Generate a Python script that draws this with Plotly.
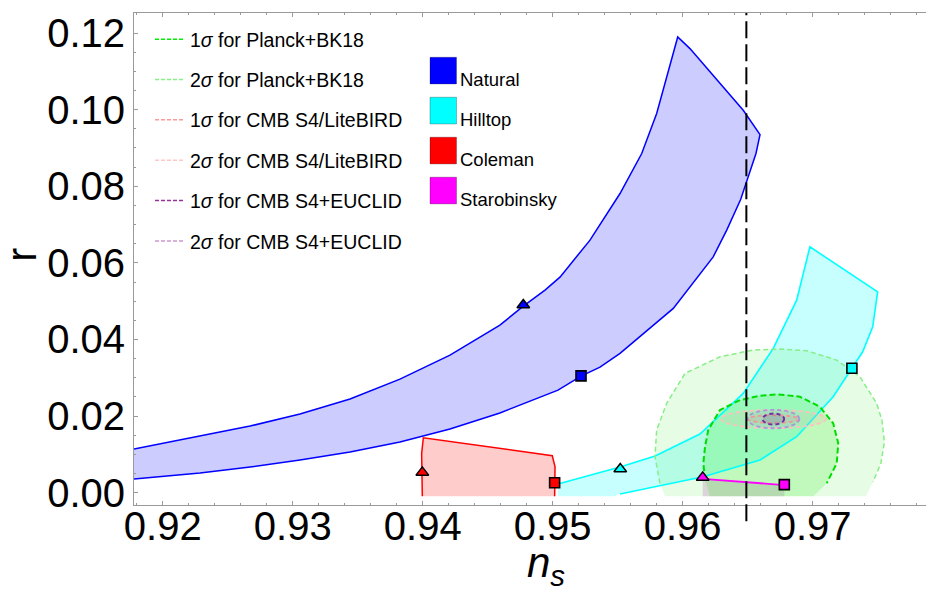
import plotly.graph_objects as go

# ---------------- data (ns, r) ----------------
natural_upper_ns = [0.91779, 0.92287, 0.92672, 0.93056, 0.93441, 0.93825, 0.94210, 0.94594, 0.94774,
                    0.94941, 0.95056, 0.95287, 0.95518, 0.95685, 0.95800, 0.95962]
natural_upper_r = [0.01140, 0.01479, 0.01740, 0.02053, 0.02445, 0.02966, 0.03593, 0.04375, 0.04871,
                   0.05288, 0.05628, 0.06593, 0.07811, 0.08855, 0.09898, 0.11897]
natural_top_ns = [0.96056, 0.96466, 0.96595]
natural_top_r = [0.11594, 0.09984, 0.09350]
natural_lower_ns = [0.96564, 0.96446, 0.96339, 0.96235, 0.95928, 0.95518, 0.95364, 0.95218, 0.95041,
                    0.94902, 0.94594, 0.94210, 0.93825, 0.93441, 0.93056, 0.92672, 0.92287, 0.91779]
natural_lower_r = [0.08855, 0.07655, 0.06854, 0.06157, 0.04811, 0.03637, 0.03279, 0.03045, 0.02679,
                   0.02497, 0.02081, 0.01661, 0.01323, 0.01062, 0.00853, 0.00670, 0.00514, 0.00357]

hilltop_upper_ns = [0.95041, 0.95287, 0.95518, 0.95788, 0.96133, 0.96466, 0.96697, 0.96877, 0.96979]
hilltop_upper_r = [0.00227, 0.00462, 0.00671, 0.00957, 0.01531, 0.02593, 0.03767, 0.05027, 0.06418]
hilltop_right_ns = [0.97500, 0.97462, 0.97385, 0.97302, 0.97256, 0.97158, 0.96877, 0.96595, 0.96158,
                    0.95774, 0.95518]
hilltop_right_r = [0.05244, 0.04331, 0.03679, 0.03246, 0.03026, 0.02505, 0.01461, 0.00853, 0.00417,
                   0.00157, -0.00034]

coleman_ns = [0.93997, 0.93992, 0.94005, 0.94997, 0.95018, 0.95015]
coleman_r = [-0.0009, 0.01028, 0.01435, 0.00965, 0.00678, -0.0009]

r_floor = -0.0009

starobinsky_ns = [0.96154, 0.96782]
starobinsky_r = [0.0036, 0.0020]

planck2_ns = [0.95864, 0.95825, 0.95787, 0.95800, 0.95877, 0.96018, 0.96287, 0.96541, 0.96748, 0.96954,
              0.97185, 0.97364, 0.97492, 0.97533, 0.97552, 0.97525, 0.97464, 0.97410]
planck2_r = [-0.0009, 0.00245, 0.00939, 0.01636, 0.02332, 0.03115, 0.03548, 0.03723, 0.03749, 0.03705,
             0.03462, 0.03026, 0.02332, 0.01897, 0.01323, 0.00767, 0.00279, -0.0009]
planck1_ns = [0.96210, 0.96172, 0.96159, 0.96172, 0.96197, 0.96287, 0.96441, 0.96595, 0.96735, 0.96902,
              0.97056, 0.97158, 0.97197, 0.97185, 0.97108, 0.97005]
planck1_r = [-0.0009, 0.00331, 0.00767, 0.01200, 0.01636, 0.02158, 0.02419, 0.02531, 0.02567, 0.02505,
             0.02244, 0.01811, 0.01289, 0.00767, 0.00245, -0.0009]

# future forecasts: centre and semi-axes (ns, r)
future_center = (0.96698, 0.01923)
future_a = [0.00404, 0.00196, 0.00200, 0.00083]   # 2σ LiteBIRD, 1σ LiteBIRD, 2σ EUCLID, 1σ EUCLID
future_b = [0.00240, 0.00100, 0.00240, 0.00143]

planck_ns = 0.9649

# benchmark points
tri_ns = [0.94774, 0.9552, 0.93997, 0.96154]
tri_r = [0.0490, 0.0062, 0.0053, 0.0040]
sq_ns = [0.95218, 0.97302, 0.95015, 0.96782]
sq_r = [0.0305, 0.0325, 0.0026, 0.0021]
model_names = ["Natural", "Hilltop", "Coleman", "Starobinsky"]
model_colors = ["#0000ff", "#00ffff", "#ff0000", "#ff00ff"]

legend_names = ["1<i>σ</i> for Planck+BK18", "2<i>σ</i> for Planck+BK18",
                "1<i>σ</i> for CMB S4/LiteBIRD", "2<i>σ</i> for CMB S4/LiteBIRD",
                "1<i>σ</i> for CMB S4+EUCLID", "2<i>σ</i> for CMB S4+EUCLID"]
legend_colors = ["#00ee00", "#88f088", "#ff9a9a", "#ffc8c8", "#993399", "#cc99cc"]

x_range = [0.91779, 0.97872]
y_range = [-0.00321, 0.12523]
x_ticks = [0.92, 0.93, 0.94, 0.95, 0.96, 0.97]
y_ticks = [0.00, 0.02, 0.04, 0.06, 0.08, 0.10, 0.12]

FONT = "Liberation Sans, Arial, Helvetica, sans-serif"

fig = go.Figure()

# ---------------- fills ----------------
nat_ns = natural_upper_ns + natural_top_ns + natural_lower_ns
nat_r = natural_upper_r + natural_top_r + natural_lower_r
fig.add_trace(go.Scatter(x=nat_ns, y=nat_r, fill="toself", fillcolor="rgba(0,0,255,0.2)",
                         mode="lines", line=dict(width=0), showlegend=False, hoverinfo="skip"))

hill_ns = hilltop_upper_ns + hilltop_right_ns
hill_r = hilltop_upper_r + hilltop_right_r
fig.add_trace(go.Scatter(x=hill_ns + [hilltop_right_ns[-1] - 0.00046, hilltop_upper_ns[0]],
                         y=hill_r + [r_floor, r_floor],
                         fill="toself", fillcolor="rgba(0,255,255,0.22)",
                         mode="lines", line=dict(width=0), showlegend=False, hoverinfo="skip"))

fig.add_trace(go.Scatter(x=coleman_ns, y=coleman_r, fill="toself", fillcolor="rgba(255,0,0,0.2)",
                         mode="lines", line=dict(width=0), showlegend=False, hoverinfo="skip"))

fig.add_trace(go.Scatter(x=starobinsky_ns + [starobinsky_ns[1], starobinsky_ns[0]],
                         y=starobinsky_r + [r_floor, r_floor],
                         fill="toself", fillcolor="rgba(200,80,200,0.25)",
                         mode="lines", line=dict(width=0), showlegend=False, hoverinfo="skip"))

fig.add_trace(go.Scatter(x=planck2_ns, y=planck2_r, fill="toself", fillcolor="rgba(60,230,40,0.12)",
                         mode="lines", line=dict(width=0), showlegend=False, hoverinfo="skip"))
fig.add_trace(go.Scatter(x=planck1_ns, y=planck1_r, fill="toself", fillcolor="rgba(40,240,20,0.2)",
                         mode="lines", line=dict(width=0), showlegend=False, hoverinfo="skip"))

# ---------------- outlines ----------------
fig.add_trace(go.Scatter(x=nat_ns, y=nat_r, mode="lines", line=dict(color="#0000ff", width=1.5),
                         showlegend=False, hoverinfo="skip"))
fig.add_trace(go.Scatter(x=hill_ns, y=hill_r, mode="lines", line=dict(color="#00ffff", width=1.6),
                         showlegend=False, hoverinfo="skip"))
fig.add_trace(go.Scatter(x=coleman_ns, y=coleman_r, mode="lines", line=dict(color="#ff0000", width=1.5),
                         showlegend=False, hoverinfo="skip"))
fig.add_trace(go.Scatter(x=planck2_ns[1:-1], y=planck2_r[1:-1], mode="lines",
                         line=dict(color="#88ee88", width=1.5, dash="5px,3px"),
                         showlegend=False, hoverinfo="skip"))
fig.add_trace(go.Scatter(x=planck1_ns[1:-1], y=planck1_r[1:-1], mode="lines",
                         line=dict(color="#00dd00", width=2, dash="6px,3px"),
                         showlegend=False, hoverinfo="skip"))
fig.add_trace(go.Scatter(x=starobinsky_ns, y=starobinsky_r, mode="lines",
                         line=dict(color="#ff00ff", width=1.8), showlegend=False, hoverinfo="skip"))

# ---------------- markers ----------------
fig.add_trace(go.Scatter(x=tri_ns, y=tri_r, mode="markers",
                         marker=dict(symbol="triangle-up", size=11, color=model_colors,
                                     line=dict(color="black", width=1.5)),
                         showlegend=False, hoverinfo="skip"))
fig.add_trace(go.Scatter(x=sq_ns, y=sq_r, mode="markers",
                         marker=dict(symbol="square", size=10, color=model_colors,
                                     line=dict(color="black", width=1.6)),
                         showlegend=False, hoverinfo="skip"))

# ---------------- legend entries (contour lines) ----------------
for i, (nm, col) in enumerate(zip(legend_names, legend_colors)):
    fig.add_trace(go.Scatter(x=[None], y=[None], mode="lines", name=nm,
                             line=dict(color=col, width=1.5, dash="4px,2px"),
                             legendgroup=f"g{i}", showlegend=True))

# ---------------- shapes ----------------
shapes = []
fut_line_cols = ["#ffc0c0", "#ff9a8a", "#a898d8", "#7030a0"]
fut_fill_cols = ["rgba(255,170,170,0.18)", "rgba(255,140,140,0.12)",
                 "rgba(150,130,210,0.12)", "rgba(100,110,160,0.22)"]
fut_widths = [1.8, 1.8, 1.8, 2.0]
cx, cy = future_center
for a, b, lc, fc, w in zip(future_a, future_b, fut_line_cols, fut_fill_cols, fut_widths):
    shapes.append(dict(type="circle", xref="x", yref="y", x0=cx - a, x1=cx + a, y0=cy - b, y1=cy + b,
                       line=dict(color=lc, width=w, dash="4px,3px"), fillcolor=fc, layer="above"))

shapes.append(dict(type="line", xref="x", yref="paper", x0=planck_ns, x1=planck_ns, y0=-0.033, y1=1,
                   line=dict(color="black", width=2, dash="17px,6px"), layer="above"))

L, T, W, H = 134, 13, 792, 492.3


def px_x(p):
    return (p - L) / W


def px_y(p):
    return (T + H - p) / H


annotations = []
for i, (nm, col) in enumerate(zip(model_names, model_colors)):
    top = 57.3 + 40 * i
    shapes.append(dict(type="rect", xref="paper", yref="paper", x0=px_x(430), x1=px_x(456.5),
                       y0=px_y(top + 26.7), y1=px_y(top), fillcolor=col,
                       line=dict(color="rgba(0,0,0,0.25)", width=1)))
    annotations.append(dict(xref="paper", yref="paper", x=px_x(458), y=px_y(top + 22.7),
                            text=nm, showarrow=False, xanchor="left", yanchor="middle",
                            font=dict(family=FONT, size=18.5, color="black")))

# axis titles
annotations.append(dict(xref="paper", yref="paper", x=px_x(22), y=px_y(255), text="r",
                        textangle=-90, showarrow=False, xanchor="center", yanchor="middle",
                        font=dict(family=FONT, size=42, color="black")))
annotations.append(dict(xref="paper", yref="paper", x=px_x(546), y=px_y(566),
                        text="<i>n<sub>s</sub></i>", showarrow=False, xanchor="center",
                        yanchor="middle", font=dict(family=FONT, size=42, color="black")))

fig.update_layout(
    width=926, height=597,
    margin=dict(l=134, r=0, t=13, b=92, autoexpand=False),
    paper_bgcolor="white", plot_bgcolor="white",
    shapes=shapes, annotations=annotations,
    showlegend=True,
    legend=dict(x=px_x(150), y=px_y(20), xanchor="left", yanchor="top",
                font=dict(family=FONT, size=19.5, color="black"),
                bgcolor="rgba(0,0,0,0)", tracegroupgap=12, itemwidth=30),
    xaxis=dict(range=x_range, tickvals=x_ticks, ticktext=[f"{v:.2f}" for v in x_ticks],
               automargin=False,
               showline=True, linecolor="#9a9a9a", linewidth=1, mirror="ticks",
               ticks="inside", ticklen=4, tickcolor="#9a9a9a",
               minor=dict(dtick=0.002, tick0=0.92, ticks="inside", ticklen=2, tickcolor="#9a9a9a"),
               showgrid=False, zeroline=False, ticklabelstandoff=-14,
               tickfont=dict(family=FONT, size=40, color="black")),
    yaxis=dict(range=y_range, tickvals=y_ticks, ticktext=[f"{v:.2f}" for v in y_ticks],
               automargin=False,
               showline=True, linecolor="#9a9a9a", linewidth=1, mirror=False,
               ticks="inside", ticklen=4, tickcolor="#9a9a9a",
               minor=dict(dtick=0.005, tick0=0, ticks="inside", ticklen=2, tickcolor="#9a9a9a"),
               showgrid=False, zeroline=False,
               tickfont=dict(family=FONT, size=40, color="black")),
)

fig.write_html("out.html", config={"displayModeBar": False},
               post_script="document.body.style.margin='0';document.body.style.padding='0';"
                           "document.body.style.overflow='hidden';")
